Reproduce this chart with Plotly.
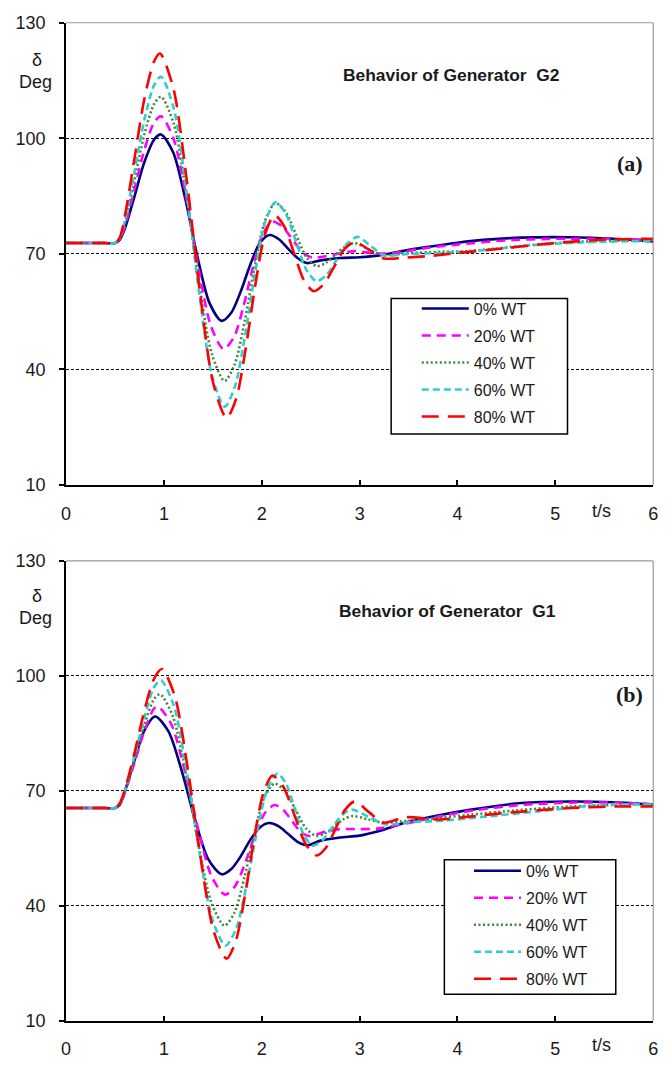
import plotly.graph_objects as go

W, H = 672, 1066

series_names = ["0% WT", "20% WT", "40% WT", "60% WT", "80% WT"]
colors = ["#000080", "#FF00FF", "#3C8A3C", "#33CCCC", "#FF0000"]
dashes = ["solid", "9px,6px", "2px,2.5px", "7px,4px", "17px,9px"]
x_ticks = [0, 1, 2, 3, 4, 5, 6]
y_ticks = [10, 40, 70, 100, 130]

# ---------- Generator G2 (panel a) ----------
t_g2_0 = [0, 0.4, 0.5, 0.55, 0.6, 0.7, 0.8, 0.9, 0.97, 1.094, 1.218, 1.342, 1.466, 1.59, 1.688, 1.786, 1.884, 1.982, 2.08, 2.175, 2.27, 2.365, 2.46, 2.6, 2.8, 3.0, 3.2, 3.45, 3.7, 4.0, 4.3, 4.65, 5.15, 5.6, 6.0]
v_g2_0 = [72.8, 72.8, 72.8, 73.7, 76.5, 85.0, 93.8, 99.7, 101.0, 96.4, 84.3, 69.3, 57.2, 52.6, 54.7, 60.3, 67.3, 72.9, 74.9, 73.8, 71.3, 68.9, 67.6, 68.3, 68.9, 69.1, 69.6, 70.8, 71.8, 72.9, 73.7, 74.2, 74.3, 73.9, 73.2]

t_g2_20 = [0, 0.4, 0.5, 0.55, 0.6, 0.7, 0.8, 0.9, 0.97, 1.098, 1.226, 1.354, 1.482, 1.61, 1.718, 1.816, 1.914, 2.012, 2.11, 2.2125, 2.315, 2.4175, 2.52, 2.73, 2.95, 3.15, 3.35, 3.7, 4.0, 4.5, 5.0, 5.5, 6.0]
v_g2_20 = [72.8, 72.8, 72.8, 73.9, 77.1, 86.9, 97.0, 104.1, 105.7, 99.9, 84.9, 66.2, 51.1, 45.3, 48.5, 56.7, 67.0, 75.2, 78.4, 77.0, 73.7, 70.4, 69.0, 69.8, 70.7, 70.1, 70.2, 71.6, 72.4, 73.5, 73.9, 73.9, 73.6]

t_g2_40 = [0, 0.4, 0.5, 0.55, 0.6, 0.7, 0.8, 0.9, 0.97, 1.10, 1.23, 1.36, 1.49, 1.62, 1.724, 1.828, 1.932, 2.036, 2.14, 2.245, 2.35, 2.455, 2.56, 2.6575, 2.755, 2.8525, 2.95, 3.085, 3.22, 3.5, 3.8, 4.1, 4.4, 4.8, 5.2, 5.6, 6.0]
v_g2_40 = [72.8, 72.8, 72.8, 74.0, 77.7, 89.2, 101.0, 108.9, 110.8, 103.8, 85.3, 62.5, 44.0, 37.0, 41.4, 52.9, 67.3, 78.8, 83.2, 80.8, 75.0, 69.2, 66.8, 67.7, 69.8, 71.9, 72.8, 71.25, 69.7, 70.2, 70.5, 70.7, 71.4, 72.4, 73.1, 73.4, 73.4]

t_g2_60 = [0, 0.4, 0.5, 0.55, 0.6, 0.7, 0.8, 0.9, 0.97, 1.10, 1.23, 1.36, 1.49, 1.62, 1.724, 1.828, 1.932, 2.036, 2.14, 2.245, 2.35, 2.455, 2.56, 2.665, 2.77, 2.875, 2.98, 3.115, 3.25, 3.5, 3.8, 4.1, 4.4, 4.8, 5.2, 5.6, 6.0]
v_g2_60 = [72.8, 72.8, 72.8, 74.1, 78.6, 91.4, 104.8, 113.8, 116.0, 107.8, 86.4, 59.9, 38.5, 30.3, 35.4, 48.6, 65.1, 78.3, 83.4, 80.4, 73.15, 65.9, 62.9, 64.6, 68.65, 72.7, 74.4, 72.0, 69.6, 70.0, 70.2, 70.6, 71.3, 72.3, 72.9, 73.2, 73.3]

t_g2_80 = [0, 0.4, 0.5, 0.55, 0.6, 0.7, 0.8, 0.9, 0.96, 1.096, 1.232, 1.368, 1.504, 1.64, 1.738, 1.836, 1.934, 2.032, 2.13, 2.23, 2.33, 2.43, 2.53, 2.635, 2.74, 2.845, 2.95, 3.1, 3.25, 3.45, 3.7, 4.0, 4.5, 5.0, 5.5, 6.0]
v_g2_80 = [72.8, 72.8, 72.8, 74.3, 79.7, 94.9, 110.2, 120.0, 122.0, 113.0, 89.4, 60.0, 36.4, 27.4, 32.4, 45.5, 61.9, 75.0, 80.0, 77.1, 70.15, 63.2, 60.3, 62.2, 66.7, 71.2, 73.1, 71.0, 68.8, 69.0, 69.4, 70.2, 71.5, 72.8, 73.7, 73.9]

# ---------- Generator G1 (panel b) ----------
t_g1_0 = [0, 0.4, 0.5, 0.55, 0.6, 0.7, 0.8, 0.91, 1.046, 1.182, 1.318, 1.454, 1.59, 1.686, 1.782, 1.878, 1.974, 2.07, 2.17, 2.27, 2.37, 2.47, 2.6, 2.8, 3.0, 3.2, 3.47, 3.81, 4.14, 4.65, 5.15, 5.6, 6.0]
v_g1_0 = [65.5, 65.5, 65.5, 66.4, 69.8, 78.0, 85.8, 89.4, 85.5, 75.2, 62.4, 52.1, 48.2, 49.5, 52.8, 57.0, 60.3, 61.6, 60.8, 58.7, 56.6, 55.8, 57.0, 57.8, 58.3, 59.5, 61.7, 63.6, 65.1, 66.8, 67.2, 67.0, 66.4]

t_g1_20 = [0, 0.4, 0.5, 0.55, 0.6, 0.7, 0.8, 0.9, 0.94, 1.077, 1.214, 1.351, 1.488, 1.625, 1.726, 1.827, 1.928, 2.029, 2.13, 2.2175, 2.305, 2.3925, 2.48, 2.65, 2.8, 3.0, 3.2, 3.5, 3.81, 4.14, 4.65, 5.15, 5.6, 6.0]
v_g1_20 = [65.5, 65.5, 65.5, 66.5, 69.5, 77.4, 85.6, 91.5, 92.0, 87.3, 75.1, 59.8, 47.6, 42.9, 45.1, 50.9, 58.3, 64.1, 66.3, 65.1, 62.25, 59.4, 58.2, 59.3, 60.0, 60.0, 60.2, 61.6, 63.3, 64.8, 66.3, 66.9, 66.9, 66.5]

t_g1_40 = [0, 0.4, 0.5, 0.55, 0.6, 0.7, 0.8, 0.9, 0.96, 1.092, 1.224, 1.356, 1.488, 1.62, 1.722, 1.824, 1.926, 2.028, 2.13, 2.2375, 2.345, 2.4525, 2.56, 2.6525, 2.745, 2.8375, 2.93, 3.085, 3.24, 3.5, 3.8, 4.14, 4.6, 5.15, 5.6, 6.0]
v_g1_40 = [65.5, 65.5, 65.5, 66.6, 69.7, 78.0, 87.2, 94.0, 95.2, 89.4, 74.4, 55.6, 40.6, 34.8, 38.3, 47.6, 59.1, 68.4, 71.9, 69.9, 65.05, 60.2, 58.2, 59.0, 60.8, 62.6, 63.4, 62.55, 61.7, 62.2, 62.9, 63.8, 64.9, 65.9, 66.3, 66.5]

t_g1_60 = [0, 0.4, 0.5, 0.55, 0.6, 0.7, 0.8, 0.9, 0.97, 1.102, 1.234, 1.366, 1.498, 1.63, 1.736, 1.842, 1.948, 2.054, 2.16, 2.25, 2.34, 2.43, 2.52, 2.62, 2.72, 2.82, 2.92, 3.095, 3.27, 3.5, 3.87, 4.3, 4.81, 5.49, 6.0]
v_g1_60 = [65.5, 65.5, 65.5, 66.7, 70.0, 79.2, 89.1, 97.1, 98.8, 92.2, 74.9, 53.5, 36.2, 29.6, 33.9, 45.1, 59.0, 70.2, 74.5, 71.75, 65.1, 58.45, 55.7, 57.1, 60.4, 63.7, 65.1, 63.15, 61.2, 61.8, 62.25, 63.3, 64.6, 66.35, 66.4]

t_g1_80 = [0, 0.4, 0.5, 0.55, 0.6, 0.7, 0.8, 0.9, 0.98, 1.112, 1.244, 1.376, 1.508, 1.64, 1.734, 1.828, 1.922, 2.016, 2.11, 2.2225, 2.335, 2.4475, 2.56, 2.6575, 2.755, 2.8525, 2.95, 3.095, 3.24, 3.47, 3.81, 4.1, 4.48, 5.15, 5.6, 6.0]
v_g1_80 = [65.5, 65.5, 65.5, 66.8, 70.2, 80.0, 90.9, 99.3, 101.8, 94.6, 75.7, 52.3, 33.4, 26.2, 30.8, 42.7, 57.5, 69.4, 74.0, 70.95, 63.55, 56.15, 53.1, 55.2, 60.15, 65.1, 67.2, 64.45, 61.7, 63.1, 62.5, 63.2, 64.2, 65.5, 65.9, 65.9]

g2_t = [t_g2_0, t_g2_20, t_g2_40, t_g2_60, t_g2_80]
g2_v = [v_g2_0, v_g2_20, v_g2_40, v_g2_60, v_g2_80]
g1_t = [t_g1_0, t_g1_20, t_g1_40, t_g1_60, t_g1_80]
g1_v = [v_g1_0, v_g1_20, v_g1_40, v_g1_60, v_g1_80]

SANS = "Liberation Sans, Arial, sans-serif"
SERIF = "Liberation Serif, Times New Roman, serif"

def px_x(p):
    return p / W

def px_y(p):
    return 1 - p / H

fig = go.Figure()

for i in range(5):
    fig.add_trace(go.Scatter(
        x=g2_t[i], y=g2_v[i], mode="lines", name=series_names[i],
        line=dict(color=colors[i], width=2.6, dash=dashes[i], shape="spline", smoothing=0.8),
        xaxis="x", yaxis="y", legend="legend", legendgroup="a%d" % i,
    ))
for i in range(5):
    fig.add_trace(go.Scatter(
        x=g1_t[i], y=g1_v[i], mode="lines", name=series_names[i],
        line=dict(color=colors[i], width=2.6, dash=dashes[i], shape="spline", smoothing=0.8),
        xaxis="x2", yaxis="y2", legend="legend2", legendgroup="b%d" % i,
    ))

xdom = [px_x(62), px_x(658)]
ydom1 = [px_y(484), px_y(13)]
ydom2 = [px_y(1030), px_y(561.5)]

axis_font = dict(family=SANS, size=18, color="#1a1a1a")

def xax(anchor, dom):
    return dict(domain=dom, anchor=anchor, range=[0, 6], tickmode="array", tickvals=x_ticks,
                ticks="inside", ticklen=5, tickwidth=1.5, tickcolor="black",
                showline=True, linecolor="black", linewidth=2, showgrid=False, zeroline=False,
                tickfont=axis_font, ticklabelstandoff=11)

def yax(anchor, dom):
    return dict(domain=dom, anchor=anchor, range=[10, 130], tickmode="array", tickvals=y_ticks,
                ticks="outside", ticklen=5, tickwidth=1.5, tickcolor="black",
                showline=True, linecolor="black", linewidth=2,
                showgrid=True, gridcolor="black", gridwidth=1, griddash="3px,2px",
                zeroline=False, tickfont=axis_font, ticklabelstandoff=10)

legend_common = dict(xanchor="left", yanchor="top", bgcolor="rgba(0,0,0,0)", borderwidth=0,
                     font=dict(family=SANS, size=16, color="#1a1a1a"), tracegroupgap=3.2,
                     itemwidth=47, traceorder="grouped")

fig.update_layout(
    width=W, height=H, margin=dict(l=0, r=0, t=0, b=0),
    paper_bgcolor="white", plot_bgcolor="white", showlegend=True,
    xaxis=xax("y", xdom), yaxis=yax("x", ydom1),
    xaxis2=xax("y2", xdom), yaxis2=yax("x2", ydom2),
    legend=dict(x=px_x(418), y=px_y(287), **legend_common),
    legend2=dict(x=px_x(471), y=px_y(860), **legend_common),
)

shapes = []
for xr, yr in [("x domain", "y domain"), ("x2 domain", "y2 domain")]:
    shapes.append(dict(type="line", xref=xr, yref=yr, x0=0, x1=1, y0=1, y1=1,
                       line=dict(color="#9a9a9a", width=1.2), layer="above"))
    shapes.append(dict(type="line", xref=xr, yref=yr, x0=1, x1=1, y0=0, y1=1,
                       line=dict(color="#9a9a9a", width=1.2), layer="above"))
# legend boxes
for (l, r, t, b) in [(392, 571, 294, 432), (446, 620, 866, 1003)]:
    shapes.append(dict(type="rect", xref="paper", yref="paper",
                       x0=px_x(l), x1=px_x(r), y0=px_y(b), y1=px_y(t),
                       line=dict(color="black", width=1.5), fillcolor="white", layer="above"))
fig.update_layout(shapes=shapes)

ann = []
def add_text(text, x, y, size=17, family=SANS, bold=False):
    ann.append(dict(text=("<b>%s</b>" % text) if bold else text, x=px_x(x), y=px_y(y),
                    xref="paper", yref="paper", xanchor="center", yanchor="middle",
                    showarrow=False, font=dict(family=family, size=size, color="#1a1a1a")))

for off in [0, 546.5]:
    add_text("δ", 32, 51 + off, size=18)
    add_text("Deg", 31, 73 + off, size=18)
add_text("t/s", 606, 511, size=18)
add_text("t/s", 606, 1055, size=18)
add_text("Behavior of Generator\u00a0 G2", 453, 66, size=17.4, bold=True)
add_text("Behavior of Generator\u00a0 G1", 449, 613, size=17.4, bold=True)
add_text("(a)", 634, 156, size=22, family=SERIF, bold=True)
add_text("(b)", 634, 697.5, size=22, family=SERIF, bold=True)
fig.update_layout(annotations=ann)

fig.write_html("out.html")
